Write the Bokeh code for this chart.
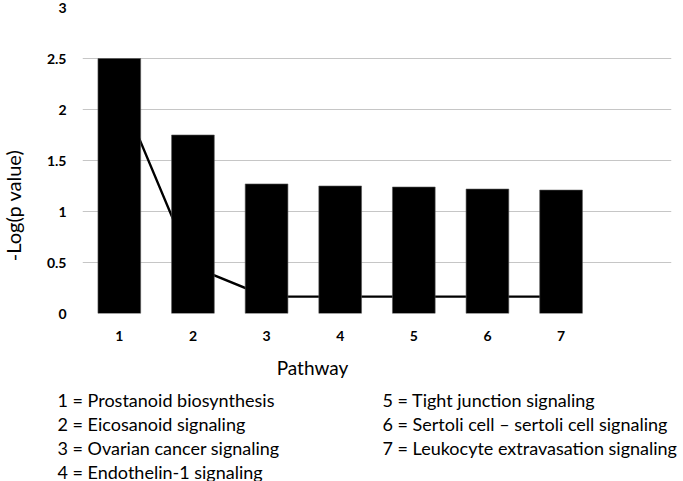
import math
from bokeh.plotting import figure
from bokeh.models import Range1d, FixedTicker, Label
from bokeh.layouts import column
from bokeh.core.properties import value
from bokeh.embed import file_html
from bokeh.resources import INLINE

# ---- data ----
pathways = [1, 2, 3, 4, 5, 6, 7]
tick_labels = ["1", "2", "3", "4", "5", "6", "7"]
neg_log_p = [2.5, 1.75, 1.27, 1.25, 1.24, 1.22, 1.21]
ratio_line = [2.18, 0.46, 0.165, 0.165, 0.165, 0.165, 0.165]
y_ticks = [0, 0.5, 1, 1.5, 2, 2.5, 3]
y_tick_labels = {0: "0", 0.5: "0.5", 1: "1", 1.5: "1.5", 2: "2", 2.5: "2.5", 3: "3"}
legend_left = ["1 = Prostanoid biosynthesis", "2 = Eicosanoid signaling",
               "3 = Ovarian cancer signaling", "4 = Endothelin-1 signaling"]
legend_right = ["5 = Tight junction signaling", "6 = Sertoli cell \u2013 sertoli cell signaling",
                "7 = Leukocyte extravasation signaling"]
x_title = "Pathway"
y_title = "-Log(p value)"

FONT = "Lato"
TOP_H = 350

p = figure(width=683, height=TOP_H, output_backend="svg", toolbar_location=None,
           x_range=Range1d(0.5, 8.5), y_range=Range1d(0, 3),
           min_border_left=82, min_border_right=12, min_border_top=7, min_border_bottom=37)
p.outline_line_color = None
p.frame_align = False

p.line(pathways, ratio_line, line_color="black", line_width=2.4)
p.vbar(x=pathways, top=neg_log_p, width=0.58, fill_color="black", line_color="#555555", line_width=0.6)

p.xgrid.visible = False
p.ygrid.ticker = FixedTicker(ticks=y_ticks)
p.ygrid.grid_line_color = "#c6c6c6"
p.ygrid.grid_line_width = 1.2

p.xaxis.ticker = FixedTicker(ticks=pathways)
p.xaxis.major_label_overrides = {i: s for i, s in zip(pathways, tick_labels)}
p.yaxis.ticker = FixedTicker(ticks=y_ticks)
p.yaxis.major_label_overrides = y_tick_labels
for ax in (p.xaxis, p.yaxis):
    ax.axis_line_color = None
    ax.major_tick_line_color = None
    ax.minor_tick_line_color = None
    ax.major_tick_in = 0
    ax.major_tick_out = 0
    ax.major_label_text_font = FONT
    ax.major_label_text_font_style = "bold"
    ax.major_label_text_font_size = "14px"
    ax.major_label_text_color = "black"
p.yaxis.major_label_standoff = 16
p.xaxis.major_label_standoff = 17

# y-axis title placed in the left side panel (not clipped), canvas coordinates
p.add_layout(Label(x=12, y=205, x_units="canvas", y_units="canvas", text=y_title,
                   angle=math.pi / 2, text_align="center", text_baseline="middle",
                   text_font=FONT, text_font_size="20px", text_color="black"), "left")

# ---- lower text panel (no axes, frame = whole canvas, pixel-like ranges) ----
H2 = 481 - TOP_H
q = figure(width=683, height=H2, output_backend="svg", toolbar_location=None,
           x_range=Range1d(0, 683), y_range=Range1d(H2, 0),
           x_axis_location=None, y_axis_location=None, min_border=0)
q.grid.visible = False
q.outline_line_color = None
q.frame_align = False

q.text(x=[312], y=[367 - TOP_H], text=[x_title], text_align="center", text_baseline="middle",
       text_font=value(FONT), text_font_size="19px", text_color="black")
q.text(x=[57] * len(legend_left), y=[399 - TOP_H, 423 - TOP_H, 447 - TOP_H, 471 - TOP_H],
       text=legend_left, text_align="left", text_baseline="middle",
       text_font=value(FONT), text_font_size="18px", text_color="black")
q.text(x=[382] * len(legend_right), y=[399 - TOP_H, 423 - TOP_H, 447 - TOP_H],
       text=legend_right, text_align="left", text_baseline="middle",
       text_font=value(FONT), text_font_size="18px", text_color="black")

layout = column(p, q, spacing=0)
open("out.html", "w").write(file_html(layout, INLINE))
